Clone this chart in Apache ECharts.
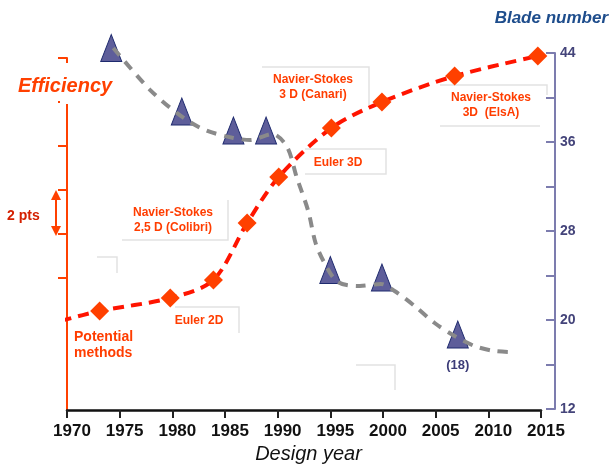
<!DOCTYPE html>
<html>
<head>
<meta charset="utf-8">
<script src="https://cdn.jsdelivr.net/npm/echarts@6/dist/echarts.min.js"></script>
<style>
html, body { margin: 0; padding: 0; background: #fff; }
#chart { width: 611px; height: 471px; }
</style>
</head>
<body>
<div id="chart"></div>
<script>
// efficiency (points, left axis, 1 unit = 1 pt) - diamonds
var effPoints = [
    [1973.1, 4.5], [1979.8, 5.09], [1983.9, 5.91], [1987.1, 8.5], [1990.1, 10.59],
    [1995.1, 12.82], [1999.9, 14.0], [2006.8, 15.18], [2014.7, 16.09]
];
// red dashed trend
var effLine = [
    [1969.4, 4.05], [1973.1, 4.5], [1979.8, 5.09], [1983.9, 5.91], [1987.1, 8.5],
    [1990.1, 10.59], [1995.1, 12.82], [1999.9, 14.0], [2006.8, 15.18], [2014.7, 16.09]
];
// blade number (right axis) - triangles
var bladePoints = [
    [1974.2, 44.45], [1980.9, 38.74], [1985.8, 37.03], [1988.9, 37.03],
    [1995.0, 24.49], [1999.9, 23.82], [2007.1, 18.7]
];
var bladeLabel = '(18)';
// grey dashed trend
var bladeLine = [
    [1974.4, 44.45], [1977.9, 40.67], [1980.8, 38.34], [1983.1, 37.08], [1985.8, 36.36],
    [1987.4, 36.18], [1989.5, 36.72], [1990.9, 35.55], [1991.8, 32.85], [1992.9, 29.8],
    [1993.6, 26.92], [1994.4, 25.21], [1995.7, 23.42], [1997.8, 23.06], [1999.8, 23.24],
    [2001.1, 22.61], [2003.0, 21.26], [2004.9, 19.73], [2006.8, 18.56], [2008.7, 17.66],
    [2010.6, 17.21], [2012.35, 17.12]
];
var yearTicks = [1970, 2015, 5];
var effTicks = [6, 8, 10, 12, 14, 16];
var bladeTickLabels = [12, 20, 28, 36, 44];

var RED = '#ff4000';
var TXT = '#ff3d00';
var FONT = '"Liberation Sans", Arial, sans-serif';

function txt(text, x, y, opt) {
    opt = opt || {};
    return {
        type: 'text', z: 100,
        style: {
            text: text, x: x, y: y,
            fill: opt.fill || TXT,
            fontFamily: FONT,
            fontSize: opt.size || 12,
            fontWeight: opt.weight || 'bold',
            fontStyle: opt.style || 'normal',
            textAlign: opt.align || 'center',
            textVerticalAlign: 'middle',
            lineHeight: opt.lh || 15
        }
    };
}
function faint(points) {
    return {
        type: 'polyline', z: 1, silent: true,
        shape: { points: points },
        style: { stroke: '#e2e2e2', lineWidth: 1.5, fill: null }
    };
}

var chart = echarts.init(document.getElementById('chart'));

var option = {
    animation: false,
    grid: [
        { left: 67, right: 70, top: 58, bottom: 61 },
        { left: 67, right: 70, top: 53, bottom: 62 }
    ],
    xAxis: [
        {
            gridIndex: 0, type: 'value',
            min: yearTicks[0], max: yearTicks[1], interval: yearTicks[2],
            axisLine: { lineStyle: { color: '#111', width: 2.5 } },
            axisTick: { length: 8, lineStyle: { color: '#222', width: 2 } },
            splitLine: { show: false },
            axisLabel: {
                color: '#111', fontFamily: FONT, fontWeight: 'bold', fontSize: 17,
                margin: 13, padding: [0, 0, 0, 10],
                formatter: function (v) { return String(v); }
            },
            name: 'Design year', nameLocation: 'middle', nameGap: 32,
            nameTextStyle: { color: '#111', fontFamily: FONT, fontStyle: 'italic', fontSize: 20, padding: [0, 0, 0, 9] }
        },
        {
            gridIndex: 1, type: 'value', show: false,
            min: yearTicks[0], max: yearTicks[1], interval: yearTicks[2]
        }
    ],
    yAxis: [
        {
            gridIndex: 0, type: 'value', position: 'left',
            min: 0, max: 16, interval: 2,
            axisLine: { show: true, lineStyle: { color: RED, width: 2 } },
            axisTick: { show: true, length: 9, customValues: effTicks, lineStyle: { color: RED, width: 2 } },
            axisLabel: { show: false },
            splitLine: { show: false }
        },
        {
            gridIndex: 1, type: 'value', position: 'right', offset: 14,
            min: 12, max: 44, interval: 4,
            axisLine: { show: true, lineStyle: { color: '#7c7cae', width: 2 } },
            axisTick: { show: true, inside: true, length: 9, lineStyle: { color: '#7c7cae', width: 2 } },
            axisLabel: {
                color: '#44447a', fontFamily: FONT, fontWeight: 'bold', fontSize: 14, margin: 5,
                formatter: function (v) { return bladeTickLabels.indexOf(v) >= 0 ? String(v) : ''; }
            },
            splitLine: { show: false }
        }
    ],
    series: [
        {
            name: 'bladePts', type: 'scatter', xAxisIndex: 1, yAxisIndex: 1,
            symbol: 'triangle', symbolSize: [21, 27], z: 2, clip: false,
            itemStyle: { color: '#5e5e9a', borderColor: '#1e2a6e', borderWidth: 1, opacity: 1 },
            data: bladePoints.map(function (p, i) {
                var d = { value: p };
                if (i === bladePoints.length - 1) {
                    d.label = {
                        show: true, position: 'bottom', distance: 10, formatter: bladeLabel,
                        color: '#3c3c78', fontFamily: FONT, fontWeight: 'bold', fontSize: 13
                    };
                }
                return d;
            })
        },
        {
            name: 'bladeLine', type: 'line', xAxisIndex: 1, yAxisIndex: 1,
            data: bladeLine, smooth: 0.3, showSymbol: false, z: 3, clip: false,
            lineStyle: { color: '#8a8a8a', width: 4, type: [10, 8] }
        },
        {
            name: 'effLine', type: 'line', xAxisIndex: 0, yAxisIndex: 0,
            data: effLine, smooth: 0.3, showSymbol: false, z: 4, clip: false,
            lineStyle: { color: '#ff1400', width: 4, type: [11, 7] }
        },
        {
            name: 'effPts', type: 'scatter', xAxisIndex: 0, yAxisIndex: 0,
            symbol: 'diamond', symbolSize: 19, z: 5, clip: false,
            itemStyle: { color: '#ff4000', opacity: 1 },
            data: effPoints
        }
    ],
    graphic: [
        // faint leftover box edges
        faint([[122, 240], [228, 240], [228, 200]]),
        faint([[97, 257], [117, 257], [117, 273]]),
        faint([[262, 67], [369, 67], [369, 105]]),
        faint([[305, 149], [386, 149], [386, 174], [305, 174]]),
        faint([[175, 307], [239, 307], [239, 333]]),
        faint([[356, 365], [395, 365], [395, 390]]),
        faint([[440, 85], [547, 85], [547, 95]]),
        faint([[440, 126], [540, 126]]),
        // mask of the left axis behind the title
        { type: 'rect', z: 99, shape: { x: 60, y: 63, width: 14, height: 41 }, style: { fill: '#fff' } },
        txt('Efficiency', 18, 86, { size: 20, style: 'italic', align: 'left', fill: RED }),
        txt('Blade number', 608, 18, { size: 17, style: 'italic', align: 'right', fill: '#1e4d8c' }),
        txt('2 pts', 7, 216, { size: 14, align: 'left', fill: '#d42000' }),
        // 2 pts arrow
        { type: 'line', z: 100, shape: { x1: 56, y1: 197, x2: 56, y2: 229 }, style: { stroke: RED, lineWidth: 2 } },
        { type: 'polygon', z: 100, shape: { points: [[56, 190], [51, 200], [61, 200]] }, style: { fill: RED } },
        { type: 'polygon', z: 100, shape: { points: [[56, 236], [51, 226], [61, 226]] }, style: { fill: RED } },
        txt('Navier-Stokes\n2,5 D (Colibri)', 173, 220.5),
        txt('Navier-Stokes\n3 D (Canari)', 313, 87.5),
        txt('Euler 3D', 338, 163),
        txt('Navier-Stokes\n3D  (ElsA)', 491, 105.5),
        txt('Euler 2D', 199, 321),
        txt('Potential\nmethods', 74, 345, { size: 14, align: 'left', lh: 16 })
    ]
};
chart.setOption(option);
</script>
</body>
</html>
